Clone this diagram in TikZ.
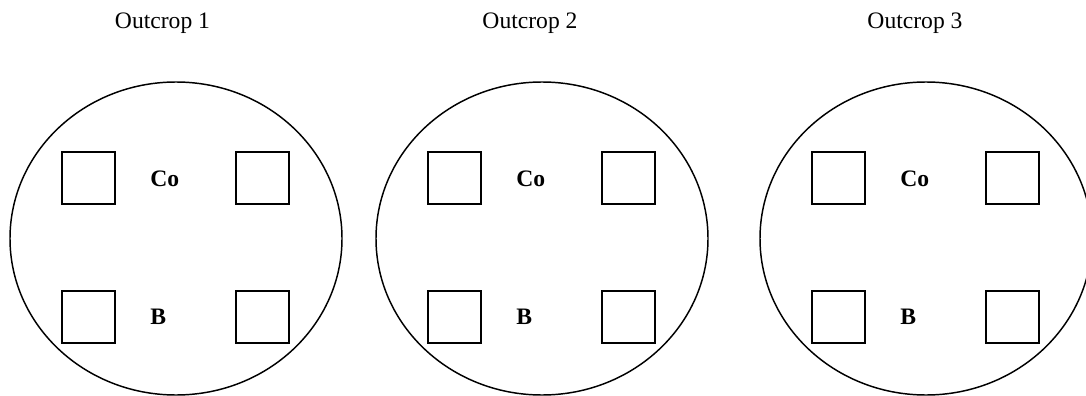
\documentclass[tikz,border=0pt]{standalone}
\usepackage{fontspec}
\setmainfont{Liberation Serif}
\usetikzlibrary{shapes.geometric}

\tikzset{
  ring/.style={ellipse, draw, line width=1.1pt, inner sep=0pt,
    minimum width=249pt, minimum height=234.75pt},
  plot/.style={rectangle, draw, line width=1.1pt, inner sep=0pt,
    minimum width=39.75pt, minimum height=39pt},
  tag/.style={font=\fontsize{17.7}{21}\selectfont\bfseries, anchor=base west, inner sep=0pt},
  title/.style={font=\fontsize{17.7}{21}\selectfont, anchor=base, inner sep=0pt}
}

\begin{document}
\begin{tikzpicture}[x=0.75pt, y=-0.75pt]
  \useasboundingbox (0,0) rectangle (1086,396);
  \foreach \i/\cx/\tx in {1/176/162.5, 2/542/530, 3/926/915} {
    \node[title] (title\i) at (\tx,28) {Outcrop \i};
    \node[ring] (ring\i) at (\cx,238.5) {};
    % sample plots
    \node[plot] (tl\i) at (\cx-87.5,178) {};
    \node[plot] (tr\i) at (\cx+86.5,178) {};
    \node[plot] (bl\i) at (\cx-87.5,317) {};
    \node[plot] (br\i) at (\cx+86.5,317) {};
    \node[tag] (co\i) at (\cx-26,186) {Co};
    \node[tag] (b\i) at (\cx-26,324) {B};
  }
\end{tikzpicture}
\end{document}
